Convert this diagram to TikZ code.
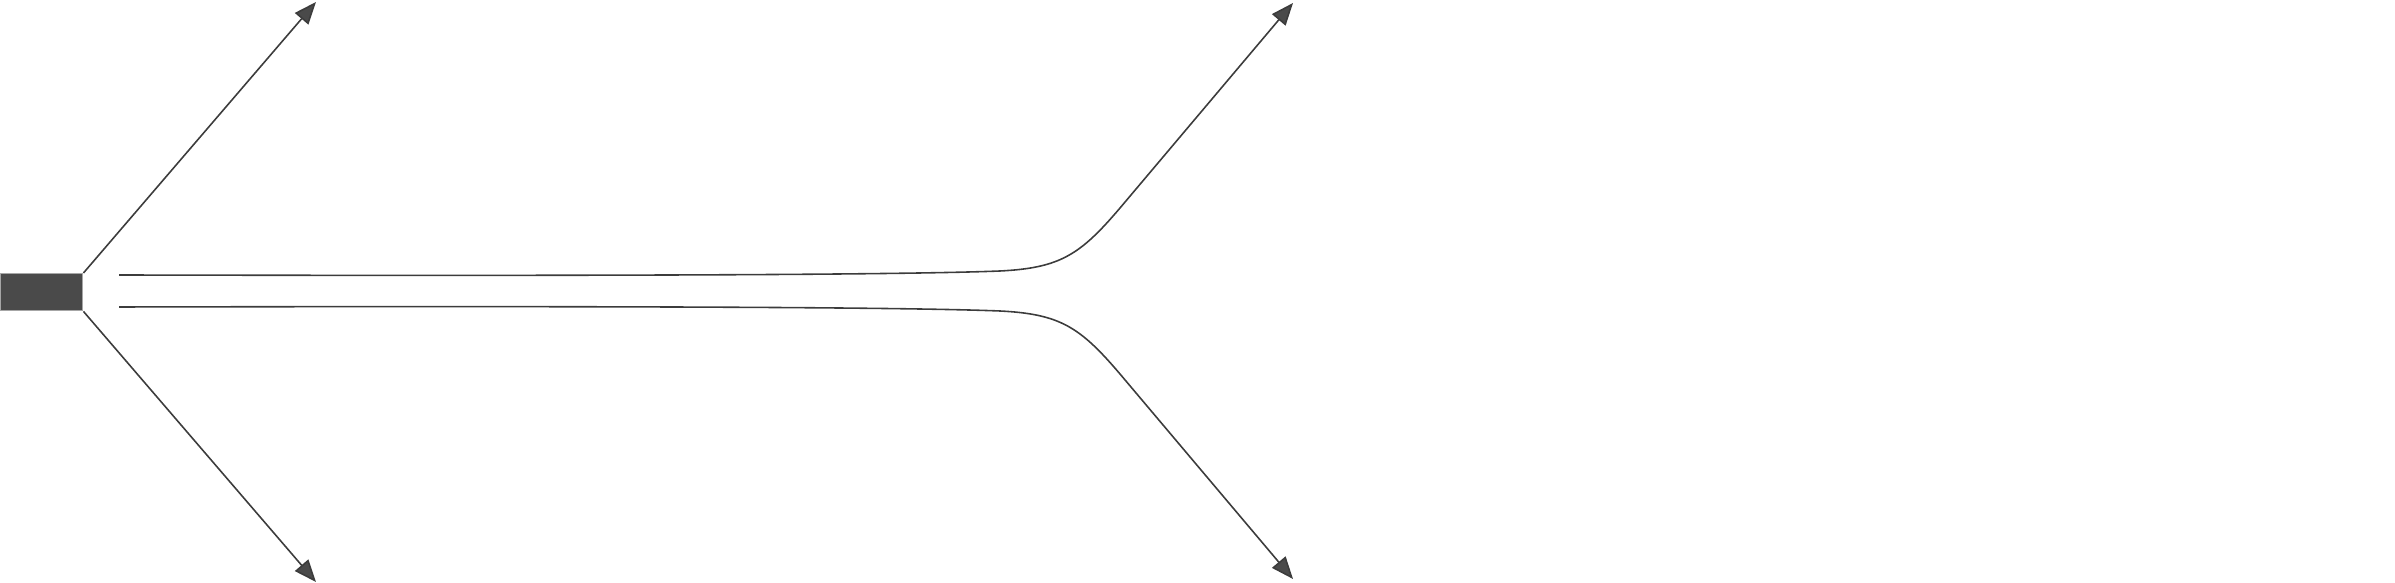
\documentclass[tikz,border=0pt]{standalone}
\usetikzlibrary{arrows.meta}
\definecolor{dark}{HTML}{4A4A4A}
\definecolor{linec}{HTML}{3C3C3C}
\begin{document}
\begin{tikzpicture}[x=0.01cm,y=-0.01cm,
  conn/.style={draw=linec,line width=0.45pt},
  arr/.style={conn,-{Triangle[length=6.3pt,width=5pt,fill=dark]}},
  block/.style={draw=gray!80,fill=dark,line width=0.4pt,inner sep=0pt,minimum width=82\pgflinewidth,anchor=north west}]
\useasboundingbox (0,0) rectangle (2395,583);
\node[draw=gray!70,fill=dark,line width=0.4pt,inner sep=0pt,minimum width=0.82cm,minimum height=0.37cm,anchor=north west] (box) at (0,273) {};
\coordinate (tl) at (316,2);
\coordinate (bl) at (316,582);
\coordinate (tr) at (1293,3);
\coordinate (br) at (1293,579);
\coordinate (us) at (119,275);
\coordinate (ls) at (119,307);
\coordinate (um) at (1000,271);
\coordinate (lm) at (1000,311);
\coordinate (ue) at (1120,208);
\coordinate (le) at (1120,374);
\draw[arr] (box.north east) -- (tl);
\draw[arr] (box.south east) -- (bl);
\draw[arr] (us) .. controls (600,276) and (900,275) .. (um) .. controls (1060,268) and (1080,255) .. (ue) -- (tr);
\draw[arr] (ls) .. controls (600,306) and (900,307) .. (lm) .. controls (1060,314) and (1080,327) .. (le) -- (br);
\end{tikzpicture}
\end{document}
